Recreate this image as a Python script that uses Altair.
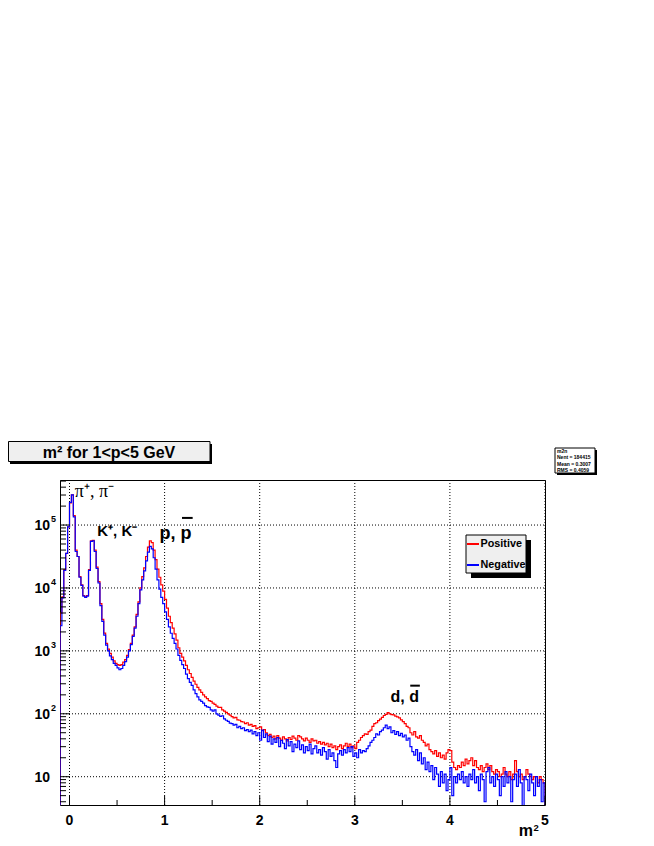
import altair as alt
import pandas as pd

X_MIN = -0.1
BIN_WIDTH = 0.02

positive = [
    3980, 7240, 19500, 35500, 93300, 224000, 302000, 141000, 39800, 31600,
    15100, 11200, 7590, 7240, 7590, 19500, 56200, 57000, 39800, 21400,
    12600, 5620, 3160, 1910, 1320, 1070, 912, 794, 692, 631,
    603, 589, 603, 661, 724, 851, 1047, 1318, 1778, 2399,
    3802, 6026, 10000, 15136, 20893, 31623, 44668, 56234, 52481, 39811,
    28184, 19953, 14791, 11220, 8913, 6607, 4786, 3548, 2818, 2291,
    1862, 1479, 1122, 912, 794, 692, 589, 501, 437, 380,
    331, 295, 263, 240, 219, 200, 186, 174, 162, 158,
    148, 141, 132, 126, 126, 115, 110, 105, 100, 95,
    90, 86, 88, 80, 79, 75, 74, 70, 72, 66,
    68, 63, 65, 58, 60, 62, 54, 56, 50, 45,
    47, 42, 44, 40, 45, 41, 38, 43, 40, 37,
    42, 39, 44, 41, 38, 45, 43, 40, 37, 41,
    38, 35, 40, 37, 38, 34, 36, 33, 35, 32,
    34, 30, 33, 29, 31, 27, 30, 32, 28, 31,
    34, 30, 33, 29, 31, 28, 35, 38, 42, 45,
    48, 47, 52, 55, 63, 70, 72, 78, 82, 88,
    94, 98, 104, 100, 97, 96, 92, 89, 86, 80,
    75, 70, 63, 60, 50, 46, 52, 43, 41, 45,
    38, 35, 31, 33, 27, 25, 23, 26, 21, 24,
    20, 22, 19, 24, 27, 26, 17, 14, 13, 15,
    14, 17, 15, 19, 16, 18, 20, 15, 18, 14,
    13, 15, 12, 14, 16, 13, 15, 12, 11, 13,
    12, 10, 11, 14, 11, 10, 12, 9, 11, 18,
    12, 10, 11, 9, 10, 13, 11, 10, 9, 10,
    10, 8, 10, 9, 8,
]

negative = [
    2510, 6920, 19100, 35500, 93300, 229000, 302000, 135000, 38000, 31600,
    14800, 11000, 7410, 7080, 7410, 19100, 55000, 56200, 38000, 20400,
    12000, 5250, 2950, 1780, 1230, 1000, 832, 724, 631, 589,
    537, 501, 525, 589, 676, 794, 1000, 1259, 1698, 2291,
    3548, 5623, 9333, 13490, 18621, 26915, 37154, 45709, 41687, 30200,
    19953, 13490, 9550, 7080, 5623, 4169, 3162, 2399, 1905, 1585,
    1318, 1072, 851, 708, 603, 525, 427, 363, 316, 282,
    240, 209, 186, 166, 158, 148, 135, 129, 126, 115,
    110, 115, 100, 95, 91, 93, 83, 79, 76, 71,
    70, 66, 68, 60, 63, 58, 60, 54, 56, 52,
    55, 48, 52, 45, 50, 38, 55, 42, 48, 36,
    44, 33, 40, 35, 42, 30, 38, 34, 28, 39,
    31, 36, 25, 33, 29, 37, 27, 32, 24, 30,
    26, 33, 23, 28, 31, 24, 27, 22, 29, 25,
    19, 27, 21, 24, 18, 14, 23, 26, 22, 27,
    24, 29, 25, 30, 21, 24, 20, 27, 24, 26,
    25, 28, 31, 35, 38, 42, 48, 46, 52, 55,
    60, 66, 58, 62, 50, 54, 47, 52, 45, 49,
    43, 46, 38, 41, 30, 25, 22, 27, 18, 24,
    16, 20, 13, 17, 12, 15, 9, 14, 11, 7,
    12, 8, 11, 6, 9, 14, 5, 10, 8, 11,
    9, 12, 8, 10, 7, 11, 9, 13, 8, 10,
    6, 11, 9, 4, 12, 14, 8, 10, 7, 11,
    9, 5, 10, 7, 12, 8, 10, 4, 9, 11,
    7, 13, 8, 3, 10, 9, 6, 11, 8, 5,
    10, 7, 9, 4, 8,
]

x_ticks_major = [0, 1, 2, 3, 4, 5]
x_ticks_minor = [0.5, 1.5, 2.5, 3.5, 4.5]
y_ticks_major = [10, 100, 1000, 10000, 100000]
y_exponents = ["", "2", "3", "4", "5"]
Y_DOMAIN = [3.55, 520000]
y_ticks_minor = [m * 10 ** e for e in range(0, 6) for m in range(2, 10)
                 if Y_DOMAIN[0] <= m * 10 ** e <= Y_DOMAIN[1]]

stats_lines = ["m2n", "Nent = 184415", "Mean = 0.3007", "RMS = 0.4059"]
legend_labels = ["Positive", "Negative"]
legend_colors = ["#ff0000", "#0000ff"]

FONT = "Liberation Sans"
W, H = 485, 325


def step_rows(counts, name):
    n = len(counts)
    rows = [{"x": X_MIN, "y": 0.1, "series": name, "o": 0}]
    for i, c in enumerate(counts):
        rows.append({"x": round(X_MIN + i * BIN_WIDTH, 4), "y": c, "series": name, "o": i + 1})
    end = round(X_MIN + n * BIN_WIDTH, 4)
    rows.append({"x": end, "y": counts[-1], "series": name, "o": n + 1})
    rows.append({"x": end, "y": 0.1, "series": name, "o": n + 2})
    return pd.DataFrame(rows)


xscale = alt.Scale(domain=[X_MIN, 5], nice=False, zero=False)
yscale = alt.Scale(type="log", domain=Y_DOMAIN, nice=False)


def XQ(f):
    return alt.X(f, scale=xscale, axis=None)


def YQ(f):
    return alt.Y(f, scale=yscale, axis=None)


one = pd.DataFrame({"a": [0]})

xgrid = alt.Chart(pd.DataFrame({"t": x_ticks_major})).mark_rule(
    color="black", strokeDash=[1, 2], strokeWidth=1).encode(
    x=XQ("t:Q"), y=alt.value(0), y2=alt.value(H))
ygrid = alt.Chart(pd.DataFrame({"t": y_ticks_major})).mark_rule(
    color="black", strokeDash=[1, 2], strokeWidth=1).encode(
    y=YQ("t:Q"), x=alt.value(0), x2=alt.value(W))

red = alt.Chart(step_rows(positive, "Positive")).mark_line(
    interpolate="step-after", color="#ff0000", strokeWidth=1.2, clip=True
).encode(x=XQ("x:Q"), y=YQ("y:Q"), order="o:Q")

blue = alt.Chart(step_rows(negative, "Negative")).mark_line(
    interpolate="step-after", color="#0000ff", strokeWidth=1.2, clip=True
).encode(x=XQ("x:Q"), y=YQ("y:Q"), order="o:Q")

xmaj = alt.Chart(pd.DataFrame({"t": x_ticks_major})).mark_rule(color="black").encode(
    x=XQ("t:Q"), y=alt.value(H), y2=alt.value(H - 9))
xmin = alt.Chart(pd.DataFrame({"t": x_ticks_minor})).mark_rule(color="black").encode(
    x=XQ("t:Q"), y=alt.value(H), y2=alt.value(H - 5))
ymaj = alt.Chart(pd.DataFrame({"t": y_ticks_major})).mark_rule(color="black").encode(
    y=YQ("t:Q"), x=alt.value(0), x2=alt.value(10))
ymin = alt.Chart(pd.DataFrame({"t": y_ticks_minor})).mark_rule(color="black").encode(
    y=YQ("t:Q"), x=alt.value(0), x2=alt.value(6))

xlab = alt.Chart(pd.DataFrame({"t": x_ticks_major, "lab": [str(v) for v in x_ticks_major]})).mark_text(
    align="center", baseline="top", font=FONT, fontWeight="bold", fontSize=14, color="black"
).encode(x=XQ("t:Q"), y=alt.value(H + 9), text="lab:N")

ylab_df = pd.DataFrame({"t": y_ticks_major, "exp": y_exponents, "lab": ["10"] * 5})
ylab = alt.Chart(ylab_df).mark_text(
    align="right", baseline="middle", font=FONT, fontWeight="bold", fontSize=14, color="black", dy=1
).encode(y=YQ("t:Q"), x=alt.value(-10), text="lab:N")
yexp = alt.Chart(ylab_df).mark_text(
    align="left", baseline="middle", font=FONT, fontWeight="bold", fontSize=9, color="black", dy=-6
).encode(y=YQ("t:Q"), x=alt.value(-9), text="exp:N")

ann = [
    (0.056, 276700, "π⁺, π⁻", 18, "Liberation Serif", "normal"),
    (0.292, 67100, "K⁺, K⁻", 15, FONT, "bold"),
    (0.947, 59400, "p, p", 18, FONT, "bold"),
    (3.376, 155.6, "d, d", 16, FONT, "bold"),
]
ann_layers = []
for ax, ay, txt, sz, fnt, wt in ann:
    ann_layers.append(
        alt.Chart(pd.DataFrame({"x": [ax], "y": [ay], "text": [txt]})).mark_text(
            align="left", baseline="alphabetic", font=fnt, fontSize=sz,
            fontWeight=wt, color="black"
        ).encode(x=XQ("x:Q"), y=YQ("y:Q"), text="text:N")
    )
bars = pd.DataFrame({"x": [1.183, 3.583], "x2": [1.295, 3.684], "y": [129800, 280]})
overlines = alt.Chart(bars).mark_rule(color="black", strokeWidth=2).encode(
    x=XQ("x:Q"), x2="x2:Q", y=YQ("y:Q"))


def rect(x, x2, y, y2, **kw):
    return alt.Chart(one).mark_rect(**kw).encode(
        x=alt.value(x), x2=alt.value(x2), y=alt.value(y), y2=alt.value(y2))


def label(x, y, txt, size, align="left", baseline="alphabetic", weight="bold"):
    return alt.Chart(one).mark_text(
        align=align, baseline=baseline, font=FONT, fontWeight=weight, fontSize=size, color="black"
    ).encode(x=alt.value(x), y=alt.value(y), text=alt.value(txt))


title_layers = [
    rect(-50, 152, -36, -16, color="black"),
    rect(-51.5, 150, -38.5, -18.5, fill="#efefef", stroke="black", strokeWidth=1),
    label(49, -22.5, "m² for 1<p<5 GeV", 16, align="center"),
]

stat_layers = [
    rect(497, 537, -30, -5, color="black"),
    rect(495, 535, -32, -7, fill="white", stroke="black", strokeWidth=1),
]
for k, s in enumerate(stats_lines):
    stat_layers.append(label(497, -28.8 + k * 6.2, s, 5, baseline="middle"))

leg_layers = [
    rect(411, 471, 60, 98, color="black"),
    rect(406, 466, 55, 93, fill="#efefef", stroke="black", strokeWidth=1),
]
for k, (lab, col) in enumerate(zip(legend_labels, legend_colors)):
    yy = 64 + k * 21
    leg_layers.append(
        alt.Chart(one).mark_rule(color=col, strokeWidth=2).encode(
            x=alt.value(407), x2=alt.value(419), y=alt.value(yy)))
    leg_layers.append(label(420.5, yy, lab, 10.8, baseline="middle"))

axis_title = [
    label(473, 356, "m", 16, align="right"),
    label(473.5, 351, "2", 9.5),
]

chart = alt.layer(
    xgrid, ygrid, red, blue, xmaj, xmin, ymaj, ymin, xlab, ylab, yexp, *ann_layers, overlines,
    *title_layers, *stat_layers, *leg_layers, *axis_title,
).properties(
    width=W, height=H,
    autosize=alt.AutoSizeParams(type="none"),
    padding={"left": 52, "top": 472, "right": 100, "bottom": 34},
    background="white",
).configure_view(stroke="black", strokeWidth=1)

chart.save("out.html", embed_options={"renderer": "svg", "actions": False})
